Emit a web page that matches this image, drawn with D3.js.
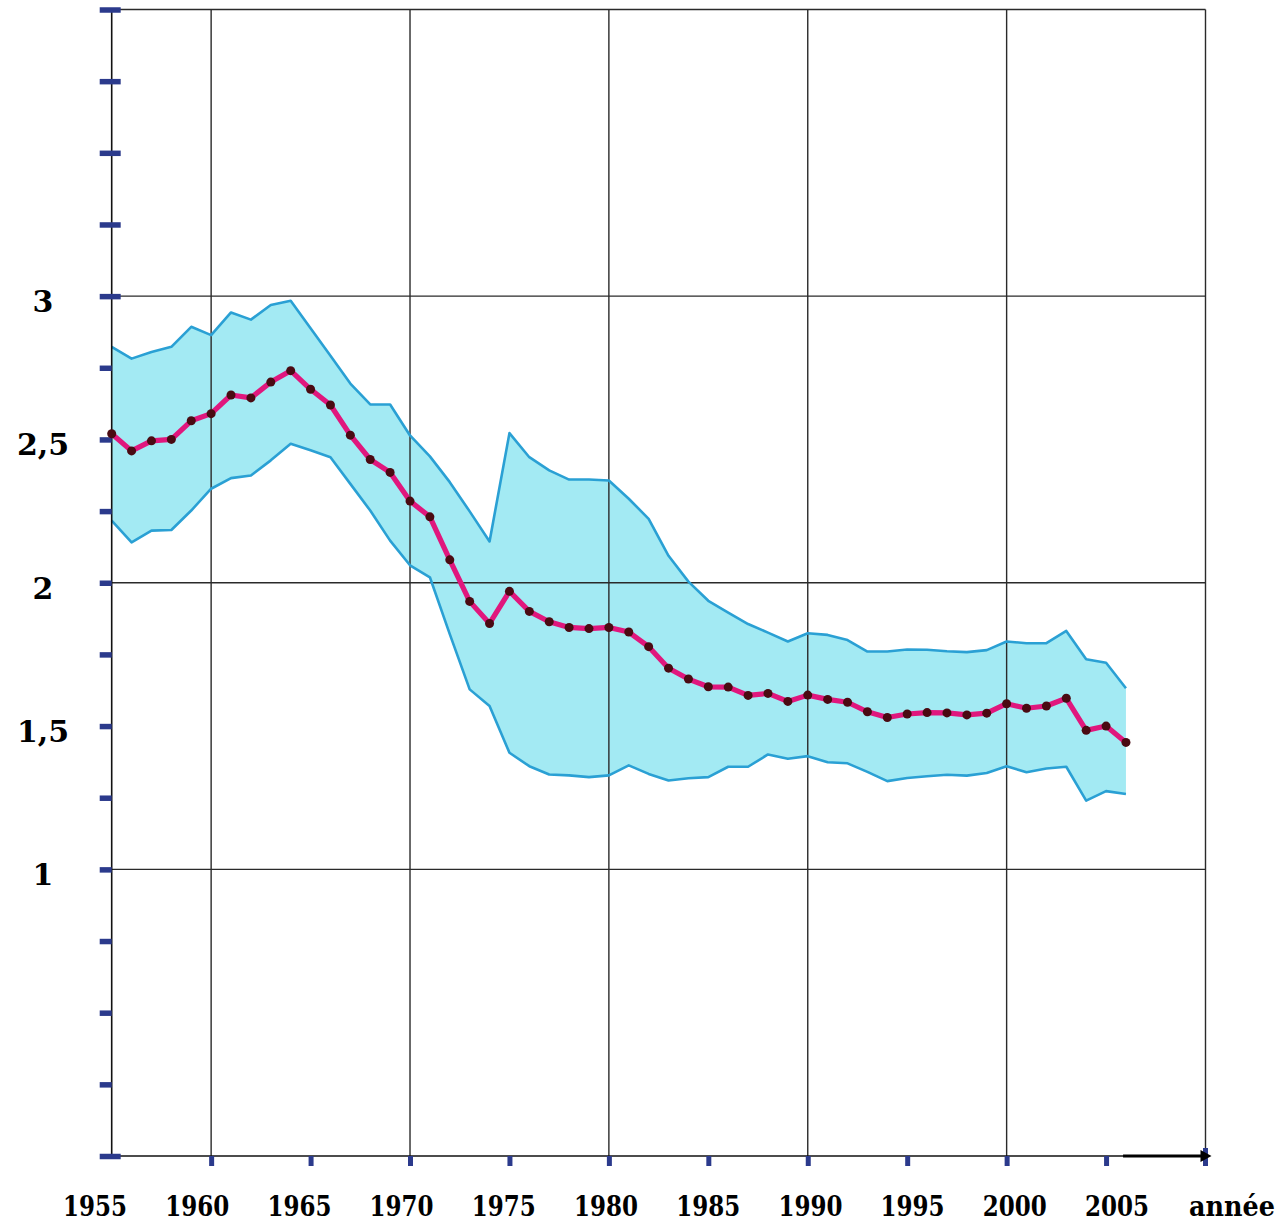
<!DOCTYPE html>
<html>
<head>
<meta charset="utf-8">
<script src="https://cdn.jsdelivr.net/npm/d3@7.9.0/dist/d3.min.js"></script>
<style>
  html, body { margin: 0; padding: 0; background: #fff; }
  svg { display: block; }
  .lab { font-family: "DejaVu Serif", serif; font-weight: bold; fill: #000; }
</style>
</head>
<body>
<svg id="chart" width="1283" height="1223"></svg>
<script>
// indicateur par année, 1955 -> 2006
const firstYear = 1955;
const meanValues = [
  2.52, 2.46, 2.495, 2.50, 2.565, 2.59, 2.655, 2.645, 2.70, 2.74,
  2.675, 2.62, 2.515, 2.43, 2.385, 2.285, 2.23, 2.08, 1.935, 1.858,
  1.97, 1.90, 1.864, 1.844, 1.84, 1.844, 1.828, 1.777, 1.702, 1.664,
  1.637, 1.636, 1.607, 1.614, 1.586, 1.608, 1.593, 1.583, 1.55, 1.53,
  1.542, 1.547, 1.546, 1.539, 1.545, 1.578, 1.562, 1.57, 1.597, 1.485,
  1.50, 1.443
];
const upperValues = [
  2.823, 2.782, 2.805, 2.823, 2.893, 2.864, 2.943, 2.918, 2.969, 2.984,
  2.888, 2.792, 2.695, 2.622, 2.622, 2.514, 2.441, 2.351, 2.249, 2.144,
  2.522, 2.438, 2.392, 2.360, 2.360, 2.357, 2.293, 2.223, 2.094, 2.004,
  1.937, 1.896, 1.856, 1.826, 1.795, 1.824, 1.818, 1.800, 1.760, 1.760,
  1.767, 1.766, 1.761, 1.758, 1.765, 1.795, 1.789, 1.789, 1.832, 1.733,
  1.721, 1.632
];
const lowerValues = [
  2.217, 2.141, 2.182, 2.184, 2.252, 2.328, 2.365, 2.374, 2.427, 2.485,
  2.462, 2.438, 2.345, 2.252, 2.147, 2.061, 2.019, 1.821, 1.628, 1.570,
  1.407, 1.360, 1.331, 1.328, 1.322, 1.328, 1.363, 1.333, 1.310, 1.318,
  1.322, 1.358, 1.358, 1.401, 1.386, 1.395, 1.374, 1.370, 1.340, 1.308,
  1.319, 1.325, 1.330, 1.327, 1.336, 1.360, 1.339, 1.352, 1.358, 1.240,
  1.273, 1.263
];
const xTickLabels = ['1955', '1960', '1965', '1970', '1975', '1980', '1985', '1990', '1995', '2000', '2005'];
const yTickLabels = [1, 1.5, 2, 2.5, 3];
const xTicks = [1960, 1965, 1970, 1975, 1980, 1985, 1990, 1995, 2000, 2005];
const xGrid = [1960, 1970, 1980, 1990, 2000, 2010];
const yGrid = [1, 2, 3, 4];
const yMinor = d3.range(0, 4.01, 0.25);

const data = meanValues.map((v, i) => ({
  year: firstYear + i, mean: v, hi: upperValues[i], lo: lowerValues[i]
}));

const svg = d3.select('#chart');
const x = d3.scaleLinear().domain([1955, 2010]).range([111.7, 1205.5]);
const y = d3.scaleLinear().domain([0, 4]).range([1156, 9.5]);
// the year labels are set a bit wider than the ticks
const xLab = d3.scaleLinear().domain([1955, 2005]).range([95, 1117]);

const blue = '#2b3a8c';

// band
svg.append('path')
  .datum(data)
  .attr('fill', '#a3eaf3')
  .attr('d', d3.area().x(d => x(d.year)).y0(d => y(d.lo)).y1(d => y(d.hi)));

// grid
svg.append('g').selectAll('line').data(xGrid).join('line')
  .attr('x1', d => x(d)).attr('x2', d => x(d))
  .attr('y1', y(4)).attr('y2', y(0))
  .attr('stroke', '#2a2a2a').attr('stroke-width', 1.4);
svg.append('g').selectAll('line').data(yGrid).join('line')
  .attr('x1', x(1955)).attr('x2', x(2010))
  .attr('y1', d => y(d)).attr('y2', d => y(d))
  .attr('stroke', '#2a2a2a').attr('stroke-width', 1.4);

// band edges
['hi', 'lo'].forEach(k => {
  svg.append('path')
    .datum(data)
    .attr('fill', 'none')
    .attr('stroke', '#2aa0d4')
    .attr('stroke-width', 2.6)
    .attr('stroke-linejoin', 'round')
    .attr('d', d3.line().x(d => x(d.year)).y(d => y(d[k])));
});

// axes lines
svg.append('line')
  .attr('x1', x(1955)).attr('x2', x(1955)).attr('y1', y(4)).attr('y2', y(0))
  .attr('stroke', '#111').attr('stroke-width', 1.6);
svg.append('line')
  .attr('x1', x(1955)).attr('x2', x(2010)).attr('y1', y(0)).attr('y2', y(0))
  .attr('stroke', '#111').attr('stroke-width', 1.6);

// y ticks (blue dashes)
const yAxis = svg.append('g')
  .attr('transform', `translate(${x(1955)},0)`)
  .call(d3.axisLeft(y).tickValues(yMinor).tickSize(12).tickFormat(''));
yAxis.select('.domain').remove();
yAxis.selectAll('.tick line')
  .attr('stroke', blue).attr('stroke-width', 5.5)
  .attr('x1', d => (d >= 3 || d === 0) ? 9 : 0);

// x ticks
const xAxis = svg.append('g')
  .attr('transform', `translate(0,${y(0)})`)
  .call(d3.axisBottom(x).tickValues(xTicks).tickSize(10).tickFormat(''));
xAxis.select('.domain').remove();
xAxis.selectAll('.tick line').attr('stroke', blue).attr('stroke-width', 5);
svg.append('line')
  .attr('x1', x(2010)).attr('x2', x(2010)).attr('y1', y(0) - 8).attr('y2', y(0) + 10)
  .attr('stroke', blue).attr('stroke-width', 5);

// arrow at the end of the x axis
svg.append('line')
  .attr('x1', x(2005) + 17).attr('x2', x(2010) - 2)
  .attr('y1', y(0)).attr('y2', y(0))
  .attr('stroke', '#000').attr('stroke-width', 3);
svg.append('path')
  .attr('d', `M${x(2010) - 5},${y(0) - 6}L${x(2010) + 6},${y(0)}L${x(2010) - 5},${y(0) + 6}Z`)
  .attr('fill', '#000');

// mean line + dots
svg.append('path')
  .datum(data)
  .attr('fill', 'none')
  .attr('stroke', '#e0177d')
  .attr('stroke-width', 5.2)
  .attr('stroke-linejoin', 'round')
  .attr('d', d3.line().x(d => x(d.year)).y(d => y(d.mean)));
svg.append('g').selectAll('circle').data(data).join('circle')
  .attr('cx', d => x(d.year)).attr('cy', d => y(d.mean))
  .attr('r', 4.5)
  .attr('fill', '#4a0a12');

// labels
svg.append('g').selectAll('text').data(xTickLabels).join('text')
  .attr('class', 'lab')
  .attr('x', d => xLab(+d)).attr('y', 1216)
  .attr('text-anchor', 'middle')
  .attr('textLength', 64)
  .attr('lengthAdjust', 'spacingAndGlyphs')
  .style('font-size', '27px')
  .text(d => d);
svg.append('text')
  .attr('class', 'lab')
  .attr('x', 1232).attr('y', 1216)
  .attr('text-anchor', 'middle')
  .attr('textLength', 86)
  .attr('lengthAdjust', 'spacingAndGlyphs')
  .style('font-size', '27px')
  .text('année');
svg.append('g').selectAll('text').data(yTickLabels).join('text')
  .attr('class', 'lab')
  .attr('x', 43).attr('y', d => y(d) + 16)
  .attr('text-anchor', 'middle')
  .style('font-size', '30px')
  .text(d => String(d).replace('.', ','));
</script>
</body>
</html>
